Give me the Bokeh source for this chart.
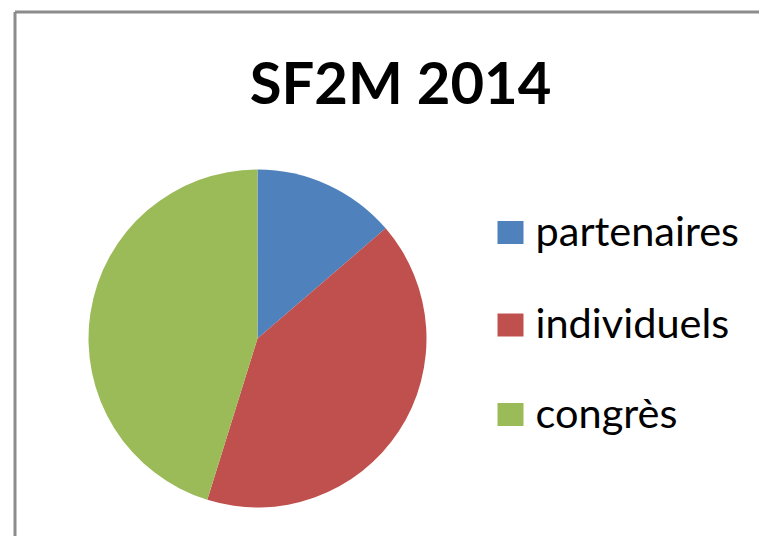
import math
from bokeh.plotting import figure
from bokeh.models import Range1d, ColumnDataSource
from bokeh.core.properties import value
from bokeh.embed import file_html
from bokeh.resources import INLINE

# ---- data ----
title_text = "SF2M 2014"
categories = ["partenaires", "individuels", "congrès"]
shares = [13.7, 41.1, 45.2]
colors = ["#4F81BD", "#C0504D", "#9BBB59"]

W, H = 759, 536
p = figure(width=W, height=H, output_backend="svg", toolbar_location=None,
           x_range=Range1d(0, W), y_range=Range1d(0, H), min_border=0,
           tools="")
p.axis.visible = False
p.grid.visible = False
p.outline_line_color = None
p.background_fill_color = "white"
p.border_fill_color = "white"

def sx(x):
    return x

def sy(y):
    return H - y

# pie
total = sum(shares)
starts, ends = [], []
a = math.pi / 2
for s in shares:
    starts.append(a)
    a -= s / total * 2 * math.pi
    ends.append(a)
src = ColumnDataSource(dict(cat=categories, val=shares, start=starts, end=ends, color=colors))
p.wedge(x=sx(257), y=sy(338), radius=169, start_angle="end", end_angle="start",
        fill_color="color", line_color=None, source=src)

# frame border (top and left visible)
p.segment(x0=[sx(14.5), sx(14.5)], y0=[sy(11.5), sy(11.5)],
          x1=[W + 5, sx(14.5)], y1=[sy(11.5), -5],
          line_color="#8c8c8c", line_width=3)

# title
p.text(x=[sx(400)], y=[sy(81)], text=[title_text], text_align="center",
       text_baseline="alphabetic", text_font=value("Lato"), text_font_style="bold",
       text_font_size="58px", text_color="#000000")

# legend
leg_y = [232, 324.5, 414]
base_y = [229, 321, 411]
p.rect(x=[sx(510)] * 3, y=[sy(v) for v in leg_y], width=26, height=23,
       fill_color=colors, line_color=None)
p.text(x=[sx(535)] * 3, y=[sy(v) for v in base_y], text=categories,
       text_align="left", text_baseline="alphabetic", text_font=value("Lato"),
       text_font_size="41.5px", text_color="#000000")

open("out.html", "w").write(file_html(p, INLINE))
